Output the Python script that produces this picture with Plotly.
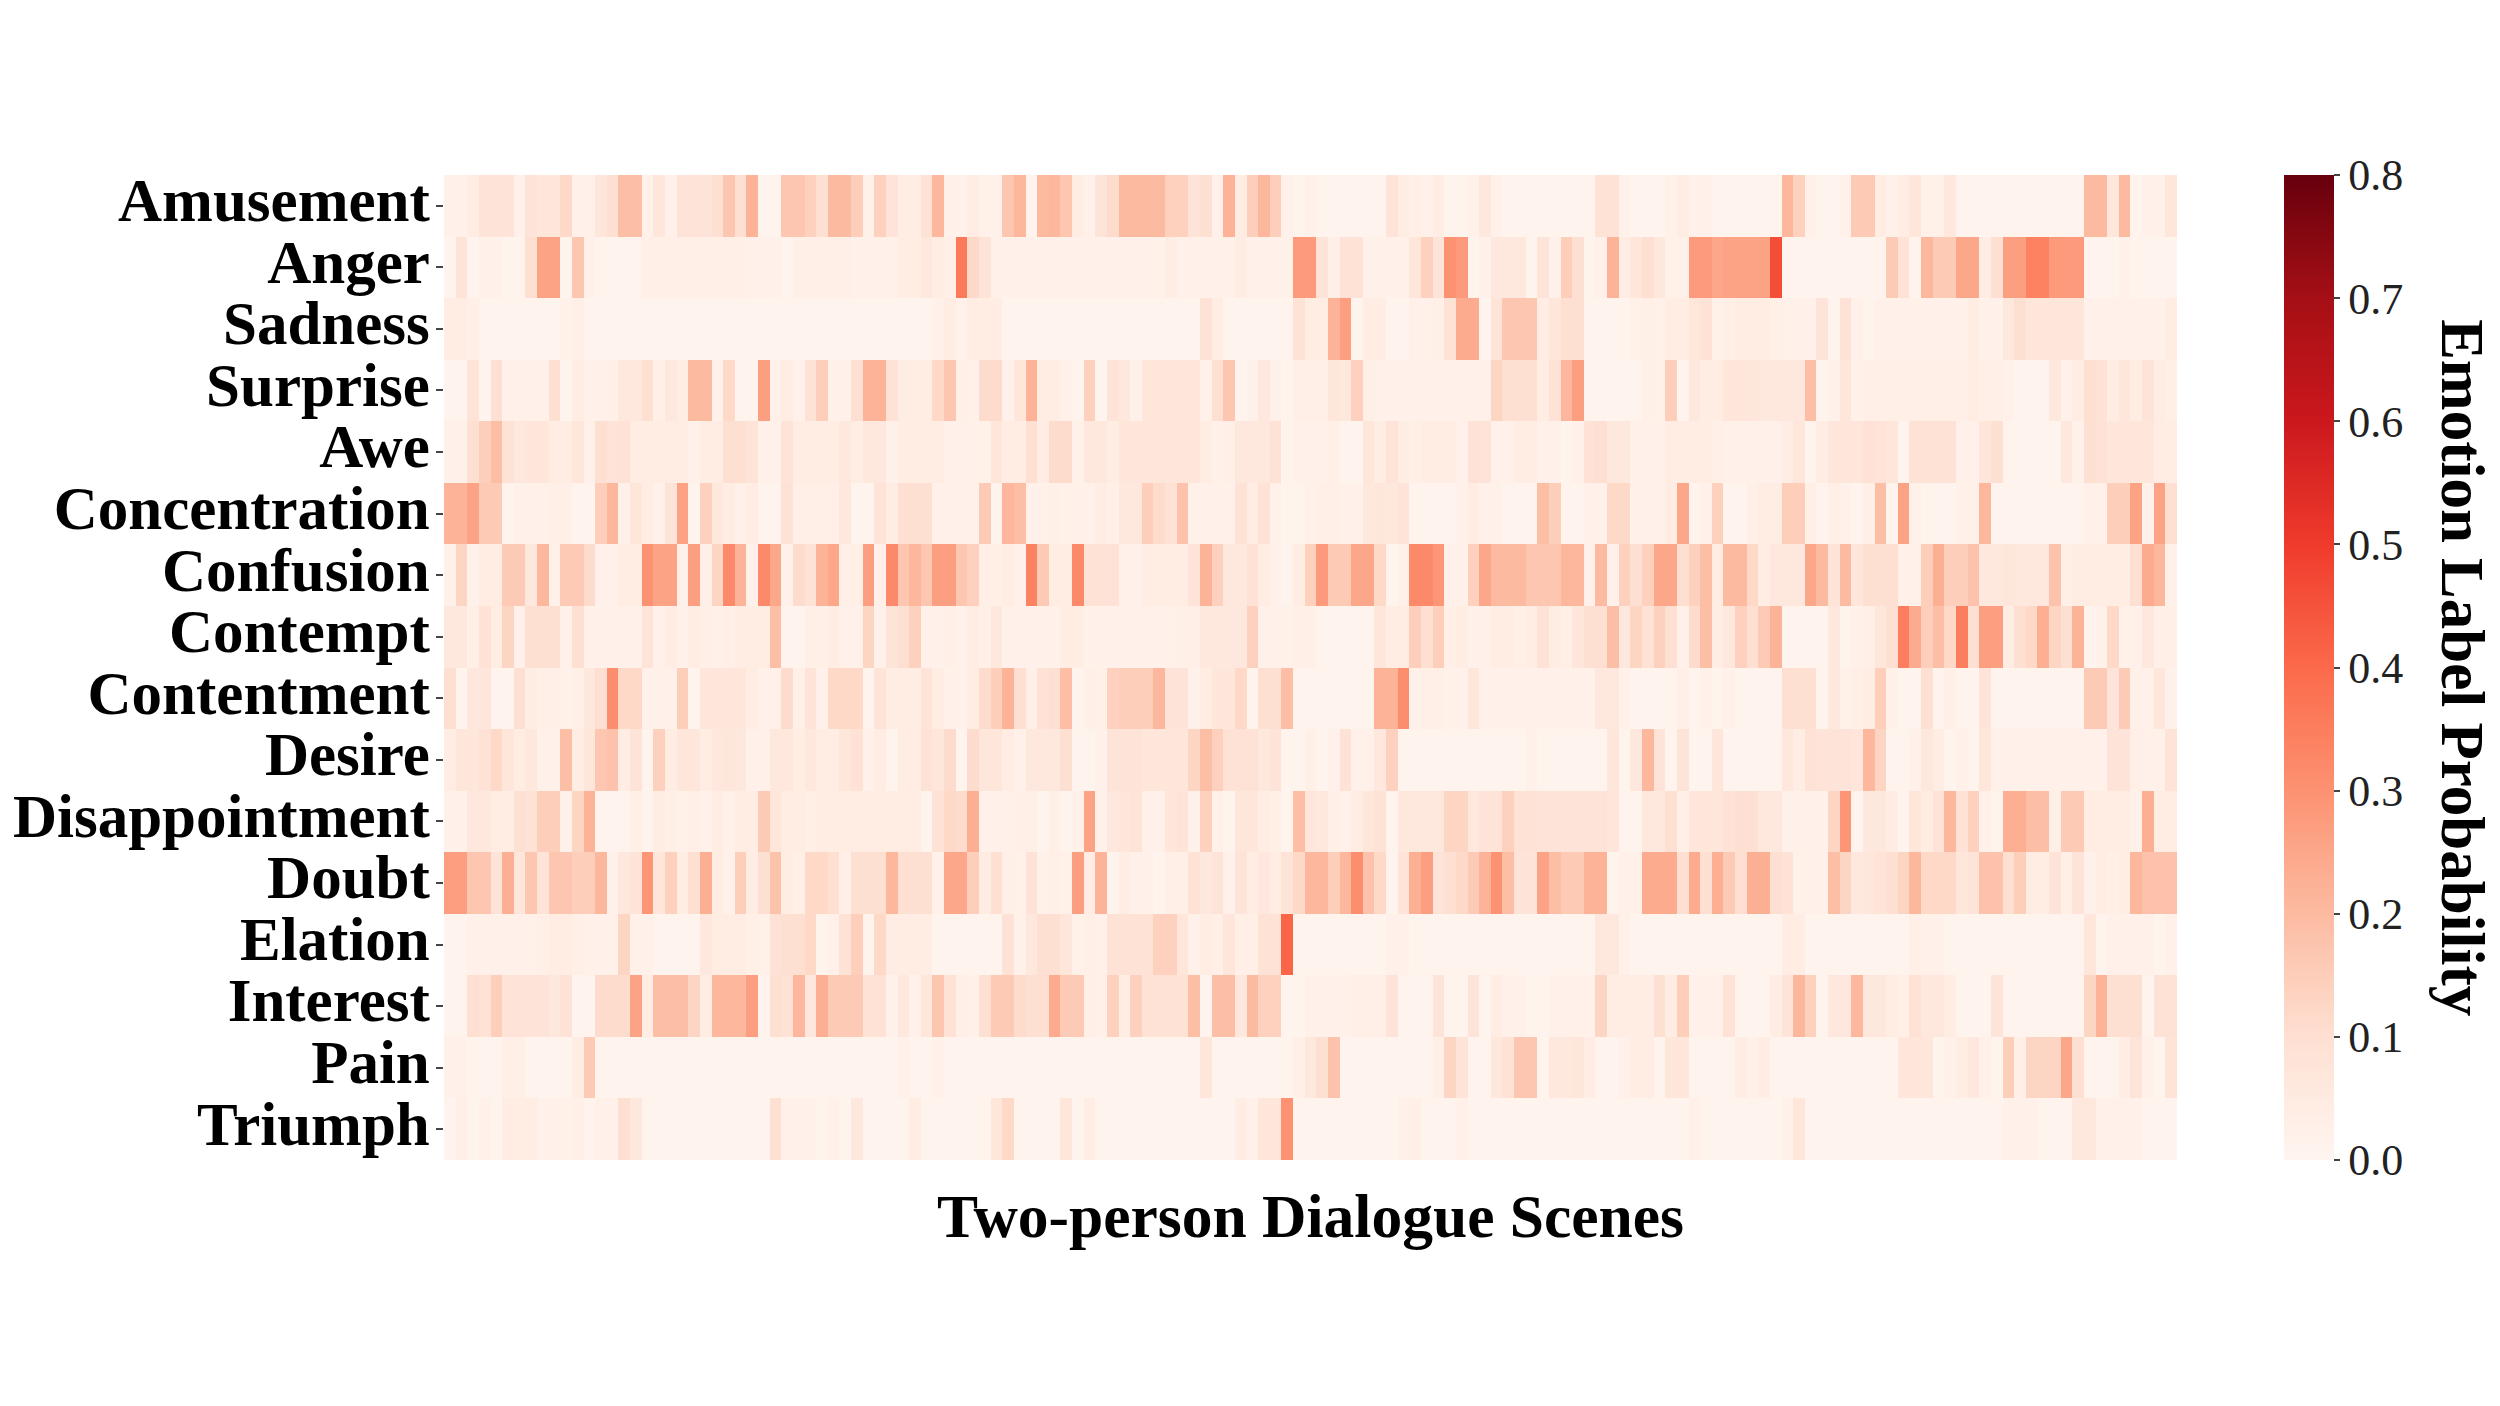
import numpy as np
import plotly.graph_objects as go

emotions = ["Amusement", "Anger", "Sadness", "Surprise", "Awe", "Concentration", "Confusion", "Contempt",
            "Contentment", "Desire", "Disappointment", "Doubt", "Elation", "Interest", "Pain", "Triumph"]
colorbar_ticks = [0.0, 0.1, 0.2, 0.3, 0.4, 0.5, 0.6, 0.7, 0.8]

# probabilities in hundredths, one value per scene
amusement = [2,2,4,8,8,8,2,8,7,7, 12,2,2,7,10,19,19,2,7,2, 8,8,8,10,17,10,22,1,1,17, 17,14,10,20,20,15,2,14,8,4, 4,9,21,2,2,4,2,2,17,21,
             1,20,21,17,4,2,8,11,20,20, 20,20,14,14,8,10,2,22,4,15, 21,15,2,1,2,1,1,1,1,1, 1,8,4,3,2,4,1,1,2,6, 2,1,1,1,1,1,1,1,1,9,
             9,2,1,1,1,2,4,2,2,1, 1,1,1,1,1,21,14,2,1,1, 2,16,16,4,2,4,7,2,2,6, 1,1,1,1,1,1,1,1,1,1, 1,20,20,7,20,1,2,2,7]
anger = [1,8,1,2,2,1,1,10,26,26, 1,17,2,1,1,1,1,3,3,3, 3,3,3,3,3,3,2,2,2,1, 3,3,3,3,3,2,2,2,2,4, 4,6,4,3,36,12,8,2,2,2,
         2,2,2,2,2,2,2,2,2,2, 2,2,4,2,2,2,2,2,4,2, 2,2,2,28,28,8,3,9,9,2, 2,2,2,7,14,8,30,28,1,2, 6,6,6,1,8,2,15,10,1,2,
         22,4,7,10,6,2,2,28,28,25, 26,26,26,26,46,1,1,1,1,1, 1,1,1,1,16,9,1,21,16,16, 25,25,4,10,27,27,34,34,28,28, 28,1,1,1,2,1,1,1,1]
sadness = [4,4,3,1,1,1,1,1,1,1, 2,3,1,1,1,1,1,1,1,1, 1,1,1,1,1,1,1,1,1,1, 1,1,1,1,1,1,1,1,1,1, 1,1,2,4,2,4,4,4,1,1,
           1,1,1,1,1,1,1,1,1,1, 1,1,1,1,1,9,4,1,1,1, 1,1,1,9,4,4,22,27,1,4, 4,1,1,2,2,3,9,24,24,1, 8,17,17,17,4,7,10,10,1,1,
           1,1,2,3,2,4,4,7,9,2, 3,4,4,4,3,2,2,2,8,1, 9,2,1,2,2,2,2,2,2,2, 2,4,2,2,6,10,7,7,7,7, 7,2,2,2,2,2,2,2,4]
surprise = [1,1,8,1,10,2,2,2,2,10, 1,4,2,2,3,6,6,10,3,6, 4,20,20,2,12,1,1,27,2,4, 2,9,15,2,2,10,22,22,9,4, 4,4,12,17,3,2,11,11,2,7,
            22,4,4,2,1,14,1,8,6,2, 7,7,7,7,7,2,10,17,1,2, 6,2,1,3,3,3,7,6,14,3, 2,2,2,2,2,2,2,2,2,2, 13,10,10,10,4,9,21,27,1,1,
            1,1,1,3,2,15,1,6,4,4, 7,7,7,6,6,6,6,19,1,2, 7,2,3,3,3,3,3,3,3,3, 3,4,3,3,2,1,1,1,6,2, 4,10,9,4,7,4,8,4,3]
awe = [2,2,10,15,19,9,6,7,7,4, 4,7,2,10,8,9,4,4,4,4, 4,2,4,4,10,10,8,2,2,8, 4,4,4,4,6,4,6,6,2,4, 4,4,4,2,2,2,2,7,4,4,
       10,4,11,11,2,6,6,4,7,7, 7,7,7,7,7,4,2,3,6,6, 6,9,1,2,2,2,3,1,1,7, 4,8,4,3,4,4,4,2,9,8, 2,2,4,4,2,2,1,2,9,10,
       6,6,2,2,2,4,4,4,4,3, 2,2,2,2,2,4,7,1,4,7, 7,7,9,8,7,1,9,9,9,9, 2,2,7,10,1,1,1,1,1,6, 2,10,9,7,7,7,7,4,4]
concentration = [22,22,26,16,16,1,2,2,2,3, 3,1,1,15,21,2,7,4,2,8, 26,1,14,6,4,2,4,1,1,9, 3,3,3,3,6,1,1,8,4,10, 10,10,2,2,2,2,16,1,21,19,
                 2,2,3,2,2,2,4,3,6,6, 15,11,9,18,2,2,2,2,9,4, 9,2,1,1,2,3,3,2,2,6, 7,6,8,1,1,1,1,2,4,2, 2,1,1,1,19,15,1,1,2,2,
                 12,12,2,2,2,4,25,1,2,14, 1,1,3,4,4,15,15,3,1,3, 2,1,3,19,1,26,2,1,1,1, 2,2,21,1,1,1,1,1,1,1, 1,2,2,15,15,26,2,26,10]
confusion = [2,13,2,4,4,16,16,6,21,2, 16,16,11,2,2,4,4,30,26,26, 2,27,3,13,32,22,2,32,25,2, 11,9,22,25,3,3,27,2,32,17, 21,17,27,27,17,14,3,3,4,2,
             34,16,4,4,32,9,9,9,2,2, 4,4,4,4,8,22,14,6,6,9, 4,2,1,4,14,28,16,16,25,25, 12,1,2,32,32,29,2,2,14,25, 20,20,20,17,17,17,21,21,2,20,
             2,14,10,14,25,25,10,14,19,4, 20,20,12,4,6,6,6,25,20,8, 20,7,10,10,10,2,2,15,23,15, 15,18,6,6,7,6,6,6,18,3, 4,4,4,4,4,10,24,21,2]
contempt = [6,6,3,9,4,13,2,10,10,10, 2,10,2,2,2,2,2,8,2,4, 2,4,3,2,3,4,4,4,19,1, 1,3,3,4,2,2,13,2,8,10, 14,2,2,3,2,4,3,6,2,2,
            2,2,2,4,4,2,2,2,2,2, 2,2,2,3,3,6,6,6,6,14, 2,2,2,3,3,1,1,1,1,1, 7,4,4,15,10,15,3,4,2,2, 4,4,3,4,9,4,3,7,10,10,
            19,6,13,9,14,10,2,11,19,4, 6,14,10,16,22,1,1,1,1,6, 1,2,3,7,10,35,24,15,19,12, 35,10,27,27,4,10,12,23,13,10, 22,1,2,12,2,2,6,3,3]
contentment = [10,1,6,7,1,1,10,4,3,3, 2,3,6,10,31,12,12,2,2,2, 15,1,7,7,7,7,4,2,2,11, 3,8,2,12,12,12,1,8,4,4, 4,8,4,2,2,4,11,15,22,10,
               3,9,10,19,1,3,2,14,15,15, 15,21,8,8,2,4,7,7,12,1, 10,10,19,1,1,1,1,1,1,1, 22,22,31,2,3,3,2,2,7,2, 2,2,2,2,2,2,2,2,2,6,
               6,2,1,1,1,1,3,1,2,1, 2,1,1,1,1,10,10,10,1,6, 2,3,4,15,2,1,1,10,1,3, 1,1,8,1,1,1,1,1,1,1, 1,16,16,8,16,2,2,7,2]
desire = [4,7,7,9,12,7,4,6,2,2, 19,4,7,17,18,4,8,1,14,4, 7,7,4,6,7,6,2,2,6,6, 4,6,4,4,7,9,2,4,1,4, 4,9,7,11,1,11,7,7,4,2,
          6,6,6,10,1,1,2,8,8,8, 7,7,7,7,13,19,14,9,9,9, 6,8,1,1,3,1,2,9,2,2, 6,14,1,1,1,1,1,1,1,1, 1,1,1,2,1,1,1,1,1,1,
          7,1,6,21,8,1,8,1,1,7, 1,1,1,1,1,6,4,9,8,8, 8,7,21,13,1,1,2,6,4,1, 2,1,7,2,2,2,2,2,2,2, 2,2,2,8,8,3,2,2,8]
disappointment = [2,2,6,6,4,4,10,9,15,15, 2,13,22,1,1,1,3,1,4,3, 2,3,2,4,2,4,4,16,7,4, 4,3,4,4,4,4,4,4,4,4, 4,1,9,12,11,23,2,2,2,3,
                  3,1,3,1,2,26,2,6,7,8, 2,2,7,8,2,14,2,1,7,7, 4,3,1,19,7,6,3,2,4,7, 9,1,6,6,6,6,13,13,6,8, 8,14,9,9,8,8,8,8,8,8,
                  7,1,1,6,6,10,3,7,7,7, 9,10,10,6,6,2,2,2,2,13, 29,1,6,6,4,1,7,4,8,21, 9,14,2,1,23,23,19,19,3,16, 16,4,4,4,4,2,23,4,4]
doubt = [27,27,17,17,8,23,7,17,8,17, 17,15,15,21,2,6,8,29,7,14, 4,10,23,4,2,15,4,10,18,4, 3,12,12,10,3,10,10,10,21,10, 10,10,2,25,25,15,4,10,3,2,
         9,2,3,2,27,4,22,1,4,2, 2,1,3,3,9,6,8,2,8,4, 6,4,8,12,21,21,15,21,31,18, 12,1,8,23,27,8,10,12,16,22, 30,19,8,8,26,19,16,16,22,22,
         1,2,2,24,24,24,10,24,10,23, 16,10,23,23,10,9,2,2,2,19, 13,6,7,8,10,13,21,12,12,12, 7,8,18,18,10,15,4,4,8,3, 8,2,4,3,4,21,18,18,18]
elation = [1,1,2,2,2,2,2,2,3,4, 4,3,2,2,2,13,2,2,1,1, 1,1,6,4,4,4,3,2,9,10, 10,12,1,2,9,15,1,12,4,4, 4,4,1,1,1,1,1,1,9,2,
           6,10,10,7,2,3,2,9,9,9, 9,14,14,7,2,4,3,7,3,3, 9,9,41,1,1,1,1,1,1,1, 1,2,2,1,1,1,1,1,1,1, 1,1,1,1,1,1,1,1,1,6,
           6,2,1,1,1,1,1,1,1,1, 1,1,1,1,1,4,4,1,1,1, 1,1,1,1,1,1,3,2,2,1, 1,1,1,1,1,1,1,1,1,1, 1,7,1,2,2,2,2,1,2]
interest = [1,1,10,9,15,8,8,8,8,6, 9,1,1,11,11,11,26,4,19,19, 19,13,4,21,21,21,27,1,10,9, 21,6,23,16,16,16,9,9,2,6, 2,7,17,9,3,2,10,16,16,11,
            10,10,24,16,16,3,2,14,4,14, 9,9,9,9,19,1,19,19,6,20, 14,14,1,1,2,2,2,2,3,3, 3,8,1,1,1,8,1,1,8,1, 4,2,2,1,1,2,2,2,2,13,
            4,4,4,4,10,4,15,2,2,2, 9,1,1,1,4,8,21,14,1,6, 6,21,6,6,4,3,9,6,6,4, 1,1,1,8,1,1,1,1,1,1, 1,13,22,10,10,10,1,9,9]
pain = [2,2,1,1,1,3,3,1,1,1, 1,4,16,1,1,1,1,1,1,1, 1,1,1,1,1,1,1,1,1,1, 1,1,1,1,1,1,1,1,1,2, 1,1,2,1,1,1,1,1,1,1,
        1,1,1,1,1,1,1,1,1,1, 1,1,1,1,1,7,1,1,1,1, 1,1,1,3,6,10,18,1,1,1, 1,1,1,1,1,3,13,8,1,1, 6,9,17,17,1,6,6,7,4,1,
        1,2,4,4,1,7,7,1,1,1, 1,4,2,4,1,1,1,1,1,1, 1,1,1,1,1,7,7,7,1,2, 4,6,2,1,15,3,13,13,13,25, 10,1,1,1,4,8,2,1,8]
triumph = [1,3,1,2,1,4,4,4,2,2, 2,3,1,2,2,10,6,1,1,1, 1,1,1,1,1,1,1,1,10,2, 2,2,1,2,1,6,1,1,1,1, 4,1,1,1,1,1,1,7,12,1,
           1,1,1,7,1,4,1,1,1,1, 1,1,1,1,1,1,1,1,4,2, 7,7,30,1,1,1,1,1,1,1, 1,1,2,3,1,1,1,2,1,1, 1,1,1,1,1,1,1,1,1,1,
           1,1,1,1,1,1,1,2,1,1, 1,1,1,1,1,2,7,1,1,1, 1,1,1,1,1,1,1,1,1,1, 1,1,1,1,2,2,2,1,1,1, 6,6,2,2,2,2,1,1,1]

rows = [amusement, anger, sadness, surprise, awe, concentration, confusion, contempt,
        contentment, desire, disappointment, doubt, elation, interest, pain, triumph]
lengths = [len(r) for r in rows]
assert len(set(lengths)) == 1, lengths
z = np.array(rows) / 100
scenes = list(range(len(amusement)))

W, H = 2500, 1406
L, R, T, B = 443.5, 2177.5, 175, 1160

fig = go.Figure(go.Heatmap(
    z=z, x=scenes, y=emotions, zmin=0, zmax=0.8, colorscale="Reds",
    colorbar=dict(
        x=(2285 - L) / (R - L), xanchor="left", xpad=0, y=0.5, yanchor="middle", ypad=0,
        lenmode="fraction", len=1, thickness=50, thicknessmode="pixels", outlinewidth=0,
        tickmode="array", tickvals=colorbar_ticks, ticktext=[f"{t:.1f}" for t in colorbar_ticks],
        ticks="outside", ticklen=6, tickwidth=2, tickcolor="#444",
        tickfont=dict(family="Liberation Serif", size=44, color="#222"),
    ),
))
fig.add_annotation(text="<b>Emotion Label Probability</b>", textangle=90,
                   xref="paper", yref="paper", x=(2463 - L) / (R - L), y=0.5,
                   xanchor="center", yanchor="middle", showarrow=False,
                   font=dict(family="Liberation Serif", size=61, color="black"))
fig.update_layout(
    width=W, height=H, autosize=False, paper_bgcolor="white", plot_bgcolor="white",
    margin=dict(l=L, r=W - R, t=T, b=H - B),
    font=dict(family="Liberation Serif"),
)
fig.update_xaxes(showticklabels=False, ticks="", showgrid=False, zeroline=False, showline=False,
                 title=dict(text="<b>Two-person Dialogue Scenes</b>", standoff=33,
                            font=dict(family="Liberation Serif", size=61.5, color="black")))
fig.update_yaxes(autorange="reversed", ticks="outside", ticklen=7, tickwidth=2, tickcolor="#444",
                 showgrid=False, zeroline=False, showline=False, tickmode="array",
                 tickvals=emotions, ticktext=[f"<b>{e}</b>" for e in emotions],
                 ticklabelstandoff=-6, ticklabelshift=6,
                 tickfont=dict(family="Liberation Serif", size=61, color="black"))
fig.write_html("out.html", config={"displayModeBar": False},
               post_script="document.body.style.margin='0';document.body.style.overflow='hidden';")
